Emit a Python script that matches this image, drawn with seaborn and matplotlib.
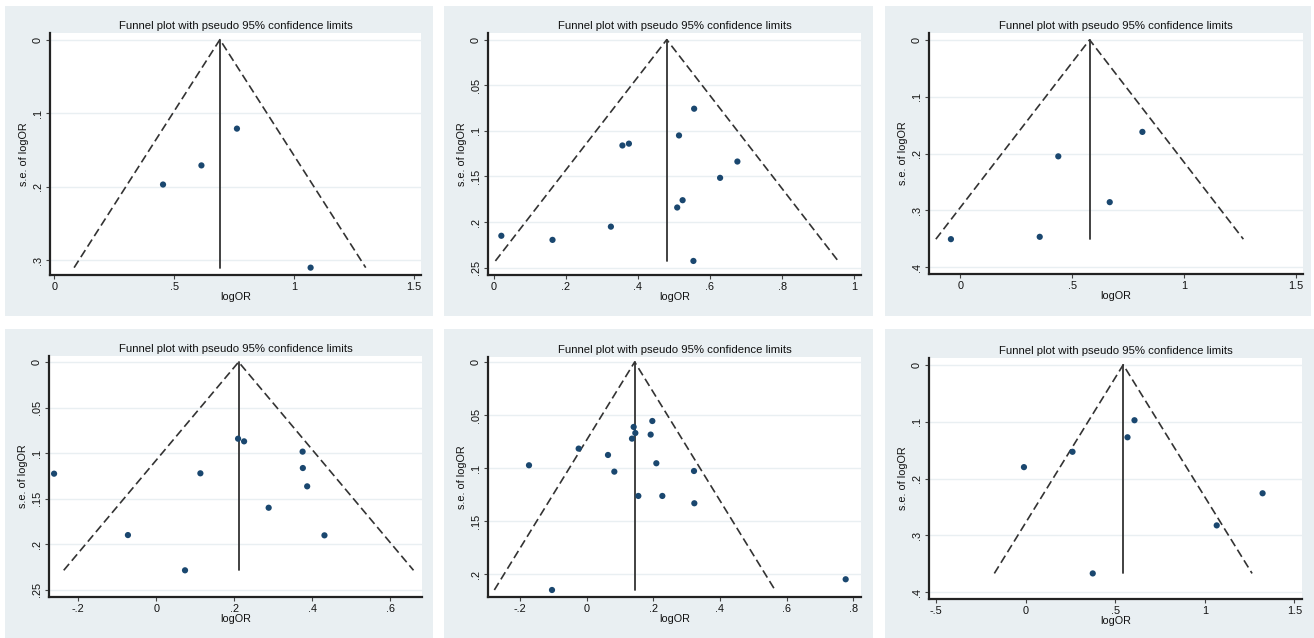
import numpy as np
import pandas as pd
import matplotlib
matplotlib.use('Agg')
import matplotlib.pyplot as plt
from matplotlib.patches import Rectangle
import seaborn as sns

sns.set_theme(style='white')
plt.rcParams['font.family'] = ['Liberation Sans', 'DejaVu Sans']

W, H = 1314, 638
BG = '#e9eff2'
GRID = '#e9eff2'
NAVY = '#1a476f'
LINE = '#333333'

TITLE = 'Funnel plot with pseudo 95% confidence limits'

# ── data: study log odds ratios and their standard errors ──────────────
p1_logor = [0.761, 0.613, 0.453, 1.068]
p1_se    = [0.121, 0.171, 0.197, 0.310]
p1_pooled = 0.690

p2_logor = [0.556, 0.514, 0.357, 0.375, 0.676, 0.628, 0.524, 0.509, 0.325, 0.021, 0.163, 0.554]
p2_se    = [0.0757, 0.105, 0.116, 0.114, 0.1336, 0.1515, 0.176, 0.184, 0.205, 0.215, 0.2195, 0.2426]
p2_pooled = 0.480

p3_logor = [0.814, 0.438, 0.668, 0.355, -0.042]
p3_se    = [0.162, 0.205, 0.2856, 0.3466, 0.3507]
p3_pooled = 0.578

p4_logor = [-0.262, 0.113, 0.2096, 0.225, 0.375, 0.3756, 0.3867, 0.288, -0.0727, 0.431, 0.0736]
p4_se    = [0.1226, 0.1222, 0.0842, 0.0871, 0.0984, 0.1164, 0.1365, 0.160, 0.190, 0.1903, 0.2287]
p4_pooled = 0.211

p5_logor = [0.197, 0.141, 0.146, 0.192, 0.136, -0.024, 0.064, -0.173, 0.209, 0.083,
            0.322, 0.155, 0.227, 0.323, -0.104, 0.777]
p5_se    = [0.0556, 0.0612, 0.0669, 0.0684, 0.0722, 0.0816, 0.0876, 0.0973, 0.0954, 0.1033,
            0.1027, 0.1262, 0.1262, 0.1331, 0.2148, 0.2047]
p5_pooled = 0.144

p6_logor = [0.608, 0.569, 0.262, -0.009, 1.323, 1.067, 0.375]
p6_se    = [0.0975, 0.1275, 0.153, 0.180, 0.226, 0.2825, 0.367]
p6_pooled = 0.545

# ── axis ticks and labels (Stata style) ────────────────────────────────
p1_xticks, p1_xlabels = [0, 0.5, 1, 1.5], ['0', '.5', '1', '1.5']
p1_yticks, p1_ylabels = [0, 0.1, 0.2, 0.3], ['0', '.1', '.2', '.3']
p2_xticks, p2_xlabels = [0, 0.2, 0.4, 0.6, 0.8, 1], ['0', '.2', '.4', '.6', '.8', '1']
p2_yticks, p2_ylabels = [0, 0.05, 0.1, 0.15, 0.2, 0.25], ['0', '.05', '.1', '.15', '.2', '.25']
p3_xticks, p3_xlabels = [0, 0.5, 1, 1.5], ['0', '.5', '1', '1.5']
p3_yticks, p3_ylabels = [0, 0.1, 0.2, 0.3, 0.4], ['0', '.1', '.2', '.3', '.4']
p4_xticks, p4_xlabels = [-0.2, 0, 0.2, 0.4, 0.6], ['-.2', '0', '.2', '.4', '.6']
p4_yticks, p4_ylabels = [0, 0.05, 0.1, 0.15, 0.2, 0.25], ['0', '.05', '.1', '.15', '.2', '.25']
p5_xticks, p5_xlabels = [-0.2, 0, 0.2, 0.4, 0.6, 0.8], ['-.2', '0', '.2', '.4', '.6', '.8']
p5_yticks, p5_ylabels = [0, 0.05, 0.1, 0.15, 0.2], ['0', '.05', '.1', '.15', '.2']
p6_xticks, p6_xlabels = [-0.5, 0, 0.5, 1, 1.5], ['-.5', '0', '.5', '1', '1.5']
p6_yticks, p6_ylabels = [0, 0.1, 0.2, 0.3, 0.4], ['0', '.1', '.2', '.3', '.4']

panels = [
    # data, pooled, ticks, limits, background box (px), axes box (px: left, top, right, bottom)
    dict(x=p1_logor, se=p1_se, pooled=p1_pooled, xt=(p1_xticks, p1_xlabels), yt=(p1_yticks, p1_ylabels),
         xlim=(-0.018, 1.528), ylim=(0.32, -0.009), bg=(5, 6, 433, 316), box=(50, 33, 421, 275)),
    dict(x=p2_logor, se=p2_se, pooled=p2_pooled, xt=(p2_xticks, p2_xlabels), yt=(p2_yticks, p2_ylabels),
         xlim=(-0.016, 1.019), ylim=(0.258, -0.0073), bg=(444, 6, 873, 316), box=(488, 33, 861, 275)),
    dict(x=p3_logor, se=p3_se, pooled=p3_pooled, xt=(p3_xticks, p3_xlabels), yt=(p3_yticks, p3_ylabels),
         xlim=(-0.14, 1.532), ylim=(0.412, -0.012), bg=(885, 6, 1311, 316), box=(929, 33, 1303, 274)),
    dict(x=p4_logor, se=p4_se, pooled=p4_pooled, xt=(p4_xticks, p4_xlabels), yt=(p4_yticks, p4_ylabels),
         xlim=(-0.275, 0.681), ylim=(0.258, -0.0066), bg=(5, 329, 433, 638), box=(49, 356, 422, 597)),
    dict(x=p5_logor, se=p5_se, pooled=p5_pooled, xt=(p5_xticks, p5_xlabels), yt=(p5_yticks, p5_ylabels),
         xlim=(-0.296, 0.823), ylim=(0.2214, -0.0047), bg=(444, 329, 873, 638), box=(488, 357, 861, 597)),
    dict(x=p6_logor, se=p6_se, pooled=p6_pooled, xt=(p6_xticks, p6_xlabels), yt=(p6_yticks, p6_ylabels),
         xlim=(-0.539, 1.543), ylim=(0.412, -0.012), bg=(885, 329, 1314, 638), box=(929, 358, 1302, 599)),
]

fig = plt.figure(figsize=(W / 100, H / 100), dpi=100, facecolor='white')

for p in panels:
    # light bluish-grey graph region behind each plot
    x0, y0, x1, y1 = p['bg']
    fig.patches.append(Rectangle((x0 / W, 1 - y1 / H), (x1 - x0) / W, (y1 - y0) / H,
                                 transform=fig.transFigure, facecolor=BG, edgecolor='none', zorder=-5))

    l, t, r, b = p['box']
    ax = fig.add_axes([l / W, 1 - b / H, (r - l) / W, (b - t) / H])
    ax.set_facecolor('white')

    ax.set_xlim(*p['xlim'])
    ax.set_ylim(*p['ylim'])
    ax.set_yticks(p['yt'][0])
    ax.set_yticklabels(p['yt'][1], rotation=90, va='center')
    ax.set_xticks(p['xt'][0])
    ax.set_xticklabels(p['xt'][1])
    for yv in p['yt'][0]:
        ax.axhline(yv, color=GRID, lw=1.0, zorder=0)

    # funnel: pooled estimate +/- 1.96 * se down to the largest se
    se_max = max(p['se'])
    theta = p['pooled']
    ax.plot([theta - 1.96 * se_max, theta, theta + 1.96 * se_max], [se_max, 0, se_max],
            color=LINE, lw=1.2, linestyle=(0, (5, 2.5)), zorder=2)
    ax.plot([theta, theta], [0, se_max], color=LINE, lw=1.3, zorder=2)

    df = pd.DataFrame({'logOR': p['x'], 'se': p['se']})
    sns.scatterplot(data=df, x='logOR', y='se', ax=ax, color=NAVY, s=20,
                    edgecolor='none', zorder=3, clip_on=False)

    for side in ['top', 'right']:
        ax.spines[side].set_visible(False)
    for side in ['left', 'bottom']:
        ax.spines[side].set_color('#222222')
        ax.spines[side].set_linewidth(1.6)
    ax.tick_params(axis='both', which='major', direction='out', length=3, width=0.8,
                   color='#444444', labelsize=7.8, labelcolor='#111111', pad=2,
                   left=True, bottom=True)

    ax.set_title(TITLE, fontsize=8.2, color='#111111', pad=3)
    ax.set_xlabel('logOR', fontsize=7.8, color='#111111', labelpad=0)
    ax.set_ylabel('s.e. of logOR', fontsize=7.8, color='#111111', labelpad=3)
    ax.grid(False)

plt.savefig('out.png', dpi=100, facecolor='white')
